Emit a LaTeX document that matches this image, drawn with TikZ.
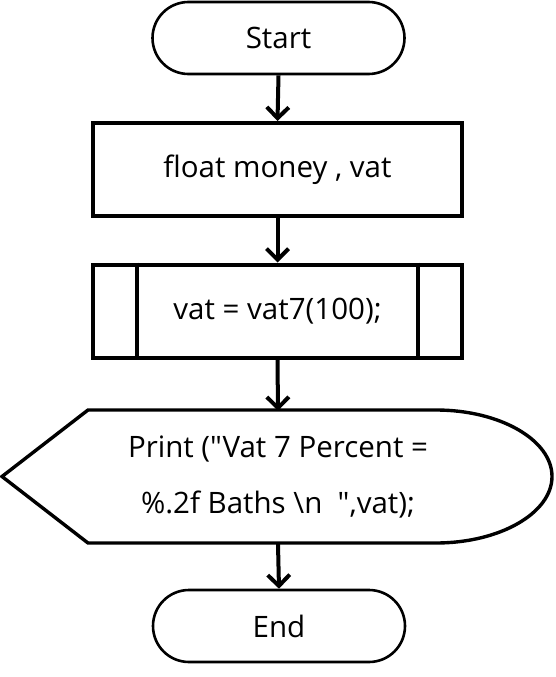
\documentclass[tikz,border=0pt]{standalone}
\usepackage{fontspec}
\setmainfont{Open Sans}[Ligatures=TeXOff]
\usetikzlibrary{arrows.meta,shapes.misc}
\begin{document}
\begin{tikzpicture}[x=1pt,y=-1pt,
  term/.style={draw,line width=2.6pt,rounded rectangle,minimum width=252pt,minimum height=72pt,inner sep=0pt,font=\fontsize{29.5}{34}\selectfont},
  proc/.style={draw,line width=4pt,rectangle,minimum width=369pt,minimum height=93pt,inner sep=0pt,font=\fontsize{29.5}{34}\selectfont},
  flow/.style={line width=4pt,-{Straight Barb[length=11pt,width=22pt,line width=4pt]}},
  shp/.style={line width=3.4pt,line join=miter}
]
\useasboundingbox (0,0) rectangle (556,677);
\node[term] (start) at (278.5,38) {Start};
\node[proc] (decl) at (277.5,169.5) {float money , vat};
\node[proc] (call) at (277.5,311) {vat = vat7(100);};
\draw[line width=4pt] ([xshift=46pt]call.north west) -- ([xshift=46pt]call.south west);
\draw[line width=4pt] ([xshift=-46pt]call.north east) -- ([xshift=-46pt]call.south east);
\node[minimum width=370pt,minimum height=133pt,inner sep=0pt,align=center,font=\fontsize{29.5}{56}\selectfont] (disp) at (278,477.5) {Print ("Vat 7 Percent =\\\%.2f Baths \textbackslash n\ \ ",vat);};
\draw[shp] (2,476.5) -- (88,410) -- (436,410)
  .. controls (500,410) and (552,440) .. (552,476.5)
  .. controls (552,513) and (500,543) .. (436,543)
  -- (88,543) -- cycle;
\node[term] (end) at (279,626) {End};
\draw[flow] (start.south) -- (decl.north);
\draw[flow] (decl.south) -- (call.north);
\draw[flow] (call.south) -- (disp.north);
\draw[flow] (disp.south) -- (end.north);
\end{tikzpicture}
\end{document}
